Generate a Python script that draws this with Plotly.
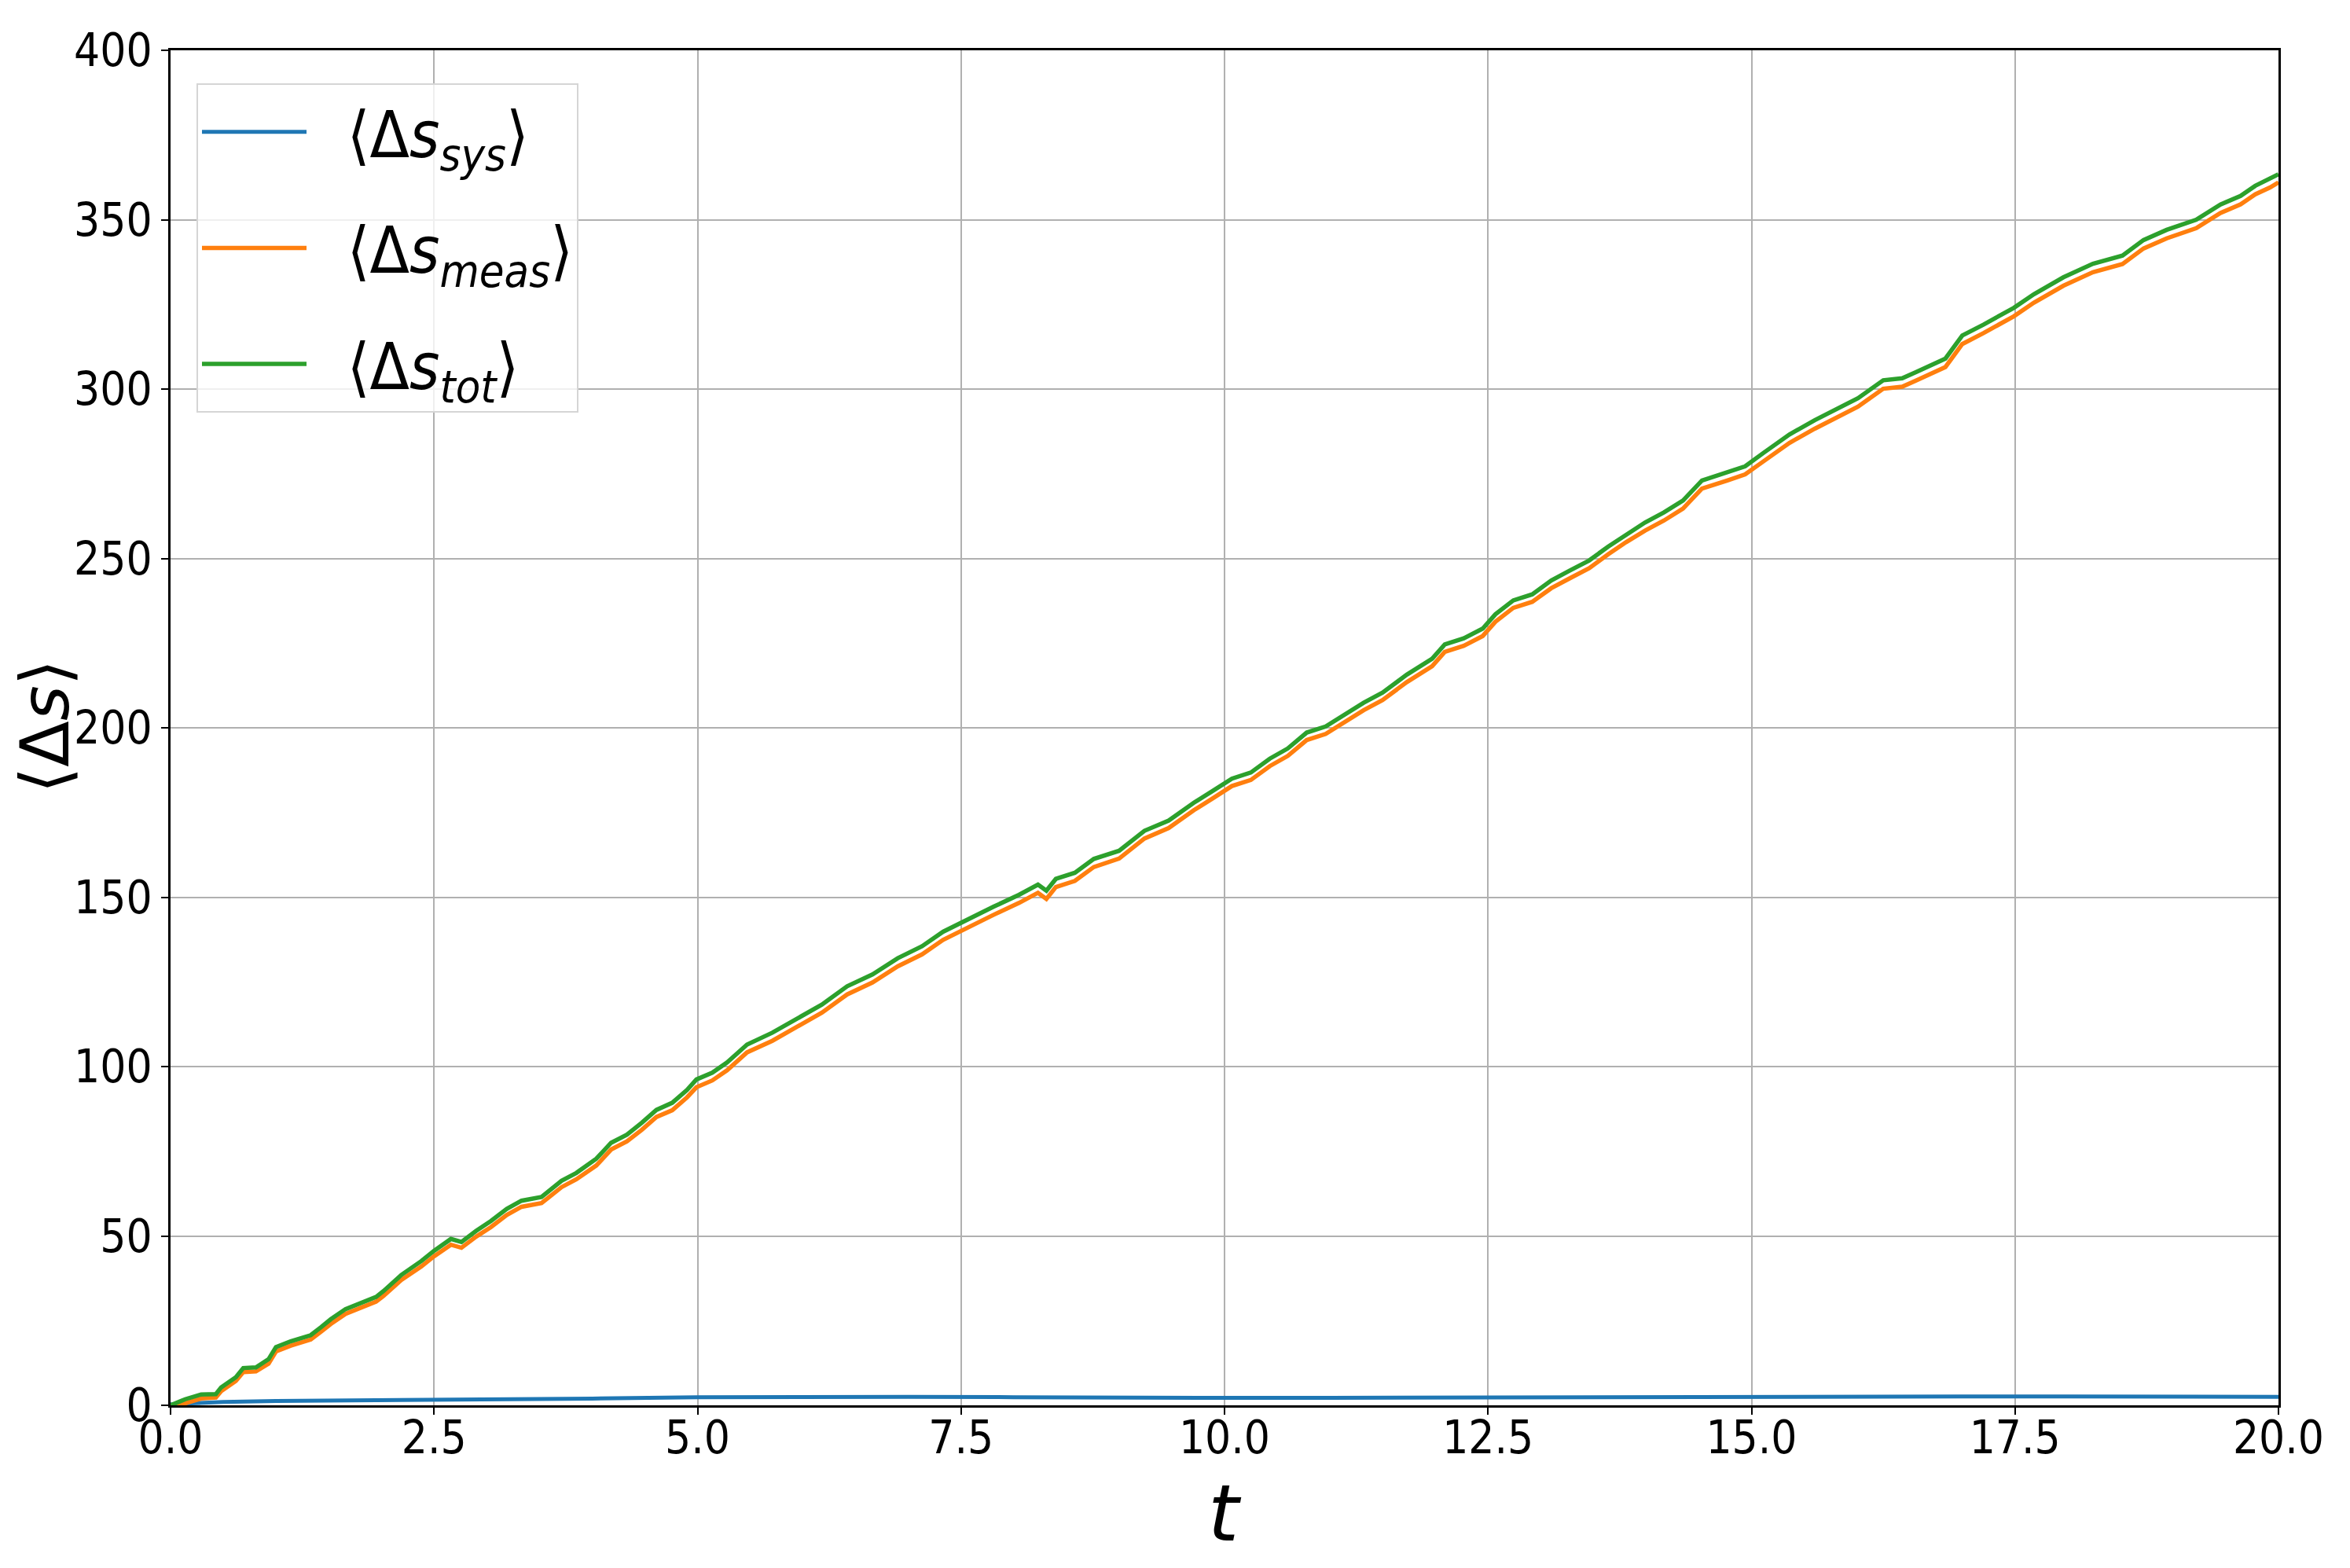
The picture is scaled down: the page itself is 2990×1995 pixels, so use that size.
import plotly.graph_objects as go

# time points
t = [0.00, 0.14, 0.29, 0.43, 0.48, 0.62, 0.69, 0.81, 0.93, 1.00,
     1.14, 1.33, 1.43, 1.52, 1.66, 1.81, 1.95, 2.02, 2.19, 2.38,
     2.50, 2.66, 2.76, 2.90, 3.04, 3.19, 3.33, 3.52, 3.71, 3.85,
     4.04, 4.18, 4.33, 4.47, 4.61, 4.76, 4.90, 4.99, 5.14, 5.28,
     5.47, 5.71, 5.94, 6.18, 6.42, 6.66, 6.90, 7.13, 7.33, 7.57,
     7.81, 8.05, 8.23, 8.31, 8.40, 8.58, 8.76, 9.00, 9.24, 9.47,
     9.71, 9.89, 10.07, 10.25, 10.43, 10.60, 10.78, 10.96, 11.14, 11.32,
     11.50, 11.73, 11.97, 12.09, 12.27, 12.45, 12.57, 12.74, 12.92, 13.10,
     13.28, 13.46, 13.64, 13.81, 13.99, 14.17, 14.35, 14.53, 14.77, 14.94,
     15.12, 15.36, 15.60, 15.78, 16.01, 16.25, 16.43, 16.56, 16.84, 17.00,
     17.20, 17.49, 17.68, 17.96, 18.24, 18.52, 18.72, 18.94, 19.22, 19.45,
     19.64, 19.78, 19.92, 20.00]

s_tot = [0.0, 1.8, 3.2, 3.3, 5.3, 8.3, 11.0, 11.2, 13.6, 17.2,
         18.9, 20.7, 23.1, 25.4, 28.4, 30.2, 32.0, 33.7, 38.5, 42.6,
         45.6, 49.1, 48.2, 51.5, 54.4, 58.0, 60.4, 61.5, 66.3, 68.6,
         72.8, 77.5, 79.9, 83.4, 87.2, 89.3, 93.1, 96.2, 98.2, 101.2,
         106.5, 110.0, 114.2, 118.3, 123.7, 127.2, 132.0, 135.5, 139.8, 143.6,
         147.2, 150.7, 153.7, 151.9, 155.4, 157.2, 161.3, 163.7, 169.6, 172.6,
         177.9, 181.4, 185.0, 186.8, 190.9, 193.9, 198.6, 200.4, 203.9, 207.4,
         210.4, 215.7, 220.4, 224.6, 226.4, 229.3, 233.5, 237.6, 239.4, 243.5,
         246.5, 249.4, 253.5, 257.1, 260.6, 263.6, 267.1, 273.0, 275.4, 277.2,
         281.3, 286.6, 290.8, 293.7, 297.3, 302.6, 303.2, 305.0, 309.0, 315.8,
         319.0, 324.0, 328.0, 333.0, 337.0, 339.4, 344.0, 347.0, 350.0, 354.5,
         357.0, 360.0, 362.0, 363.4]

s_meas = [0.0, 0.6, 2.0, 2.3, 4.2, 7.2, 9.8, 10.0, 12.3, 15.9,
          17.6, 19.4, 21.8, 24.0, 27.0, 28.8, 30.6, 32.3, 37.0, 41.0,
          44.0, 47.4, 46.5, 49.8, 52.6, 56.2, 58.6, 59.7, 64.4, 66.7,
          70.8, 75.5, 77.9, 81.3, 85.1, 87.1, 90.9, 93.9, 95.9, 98.9,
          104.2, 107.6, 111.8, 115.9, 121.3, 124.8, 129.6, 133.1, 137.4, 141.2,
          144.8, 148.3, 151.3, 149.5, 153.0, 154.8, 158.9, 161.4, 167.3, 170.4,
          175.7, 179.2, 182.8, 184.6, 188.7, 191.7, 196.4, 198.2, 201.7, 205.2,
          208.2, 213.5, 218.2, 222.4, 224.2, 227.1, 231.3, 235.4, 237.2, 241.2,
          244.2, 247.1, 251.2, 254.8, 258.2, 261.2, 264.7, 270.6, 273.0, 274.8,
          278.8, 284.1, 288.3, 291.2, 294.8, 300.1, 300.7, 302.5, 306.5, 313.3,
          316.5, 321.5, 325.5, 330.5, 334.5, 336.9, 341.5, 344.5, 347.5, 352.0,
          354.5, 357.5, 359.5, 361.0]

# the system part is much flatter, read on a coarser grid
t_sys = [0, 0.5, 1, 2, 3, 4, 5, 6, 7, 8, 9, 10, 11, 12, 13, 14, 15, 16, 17, 18, 19, 20]
s_sys = [0.3, 1.0, 1.3, 1.5, 1.7, 2.0, 2.4, 2.5, 2.5, 2.4, 2.2, 2.2, 2.2, 2.3, 2.4,
         2.5, 2.6, 2.6, 2.6, 2.6, 2.5, 2.5]

x_ticks = [0, 2.5, 5, 7.5, 10, 12.5, 15, 17.5, 20]
y_ticks = [0, 50, 100, 150, 200, 250, 300, 350, 400]

narrow = "DejaVu Sans Condensed, DejaVu Sans, sans-serif"
gap = "\u00a0\u00a0"  # space between legend line and label

fig = go.Figure()
fig.add_trace(go.Scatter(x=t_sys, y=s_sys, mode="lines", legendgroup="a",
                         line=dict(color="#1f77b4", width=5),
                         name=gap + "⟨Δ<i>s</i><sub><i>sys</i></sub>⟩"))
fig.add_trace(go.Scatter(x=t, y=s_meas, mode="lines", legendgroup="b",
                         line=dict(color="#ff7f0e", width=5.5),
                         name=gap + "⟨Δ<i>s</i><sub><i>meas</i></sub>⟩"))
fig.add_trace(go.Scatter(x=t, y=s_tot, mode="lines", legendgroup="c",
                         line=dict(color="#2ca02c", width=5.5),
                         name=gap + "⟨Δ<i>s</i><sub><i>tot</i></sub>⟩"))

axis_style = dict(showline=True, mirror=True, linecolor="black", linewidth=2.5,
                  ticks="outside", ticklen=9, tickwidth=2, tickcolor="black",
                  showgrid=True, gridcolor="#b0b0b0", gridwidth=2,
                  zeroline=False, tickfont=dict(family=narrow, size=58, color="black"))

fig.update_xaxes(range=[0, 20], tickvals=x_ticks, tickformat=".1f",
                 ticklabelstandoff=-20, **axis_style)
fig.update_yaxes(range=[0, 400], tickvals=y_ticks, **axis_style)

# axis labels placed by hand
fig.add_annotation(text="<i>t</i>", xref="paper", yref="paper", x=0.5, y=-0.0795,
                   xanchor="center", yanchor="middle", showarrow=False,
                   font=dict(family="DejaVu Sans", size=100, color="black"))
fig.add_annotation(text="⟨Δ<i>s</i>⟩", xref="paper", yref="paper", x=-0.0596, y=0.501,
                   xanchor="center", yanchor="middle", showarrow=False, textangle=-90,
                   font=dict(family="DejaVu Sans", size=86, color="black"))

fig.update_layout(
    width=2970, height=1975,
    margin=dict(l=209, r=79, t=56, b=195),
    plot_bgcolor="white", paper_bgcolor="white",
    legend=dict(x=0.0123, y=0.9756, xanchor="left", yanchor="top",
                bgcolor="rgba(255,255,255,0.8)", bordercolor="#d5d5d5", borderwidth=2,
                font=dict(family=narrow, size=82, color="black"),
                itemwidth=133, tracegroupgap=38, traceorder="grouped"),
)

fig.write_html("out.html")
